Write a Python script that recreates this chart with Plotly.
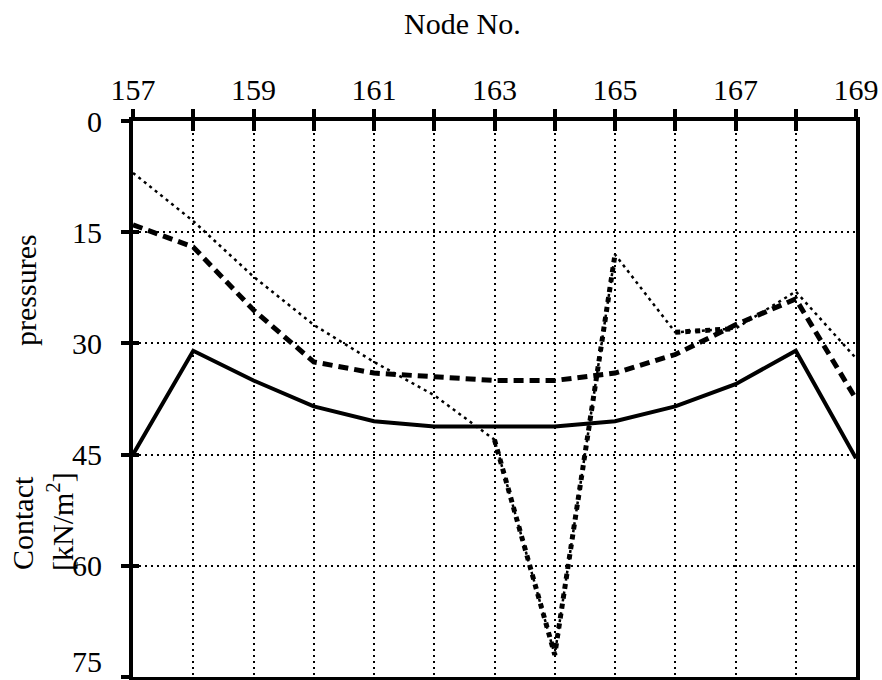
import plotly.graph_objects as go

nodes = [157, 158, 159, 160, 161, 162, 163, 164, 165, 166, 167, 168, 169]
label_nodes = [157, 159, 161, 163, 165, 167, 169]
label_texts = ["157", "159", "161", "163", "165", "167", "169"]
y_ticks = [0, 15, 30, 45, 60, 75]
y_label_vals = [0, 15, 30, 45, 60]
y_label_texts = ["0", "15", "30", "45", "60"]
y_last_tick = [75]
y_last_label = ["75"]

solid_vals = [45, 31, 35, 38.5, 40.5, 41.2, 41.2, 41.2, 40.5, 38.5, 35.5, 31, 45.5]
dashed_vals = [14, 17, 25.5, 32.5, 34, 34.5, 35, 35, 34, 31.5, 27.5, 24, 37.5]
dotted_vals = [7, 13.5, 21, 27.5, 32.5, 37, 43, 72, 18, 28.5, 28, 23, 32]
# parts of the dotted series drawn with heavy square dots
heavy_nodes_a = [163, 164, 165]
heavy_vals_a = [43, 72, 18]
heavy_nodes_b = [166, 167]
heavy_vals_b = [28.5, 28]

FONT = "Liberation Serif, Times New Roman, serif"
W, H = 882, 680
L, R, T, B = 133, 26, 121, 3
PW, PH = W - L - R, H - T - B
XR = [157, 169]
YR = [75, 0]


def px(x):
    return (x - L) / PW


def py(y):
    return 1 - (y - T) / PH


fig = go.Figure()
fig.add_trace(go.Scatter(x=nodes, y=dotted_vals, mode="lines",
                         line=dict(color="black", width=2.5, dash="3px,4px"), showlegend=False))
fig.add_trace(go.Scatter(x=heavy_nodes_a, y=heavy_vals_a, mode="lines",
                         line=dict(color="black", width=5, dash="5px,5px"), showlegend=False))
fig.add_trace(go.Scatter(x=heavy_nodes_b, y=heavy_vals_b, mode="lines",
                         line=dict(color="black", width=5, dash="5px,5px"), showlegend=False))
fig.add_trace(go.Scatter(x=nodes, y=dashed_vals, mode="lines",
                         line=dict(color="black", width=5, dash="10px,6px"), showlegend=False))
fig.add_trace(go.Scatter(x=nodes, y=solid_vals, mode="lines",
                         line=dict(color="black", width=4), showlegend=False))
# empty helper traces so the overlay axes (inner ticks, labels) are drawn
for xa, ya in [("x2", "y2"), ("x3", "y3"), ("x", "y4")]:
    fig.add_trace(go.Scatter(x=[], y=[], xaxis=xa, yaxis=ya, showlegend=False, hoverinfo="skip"))

common = dict(showgrid=False, zeroline=False, showline=False, automargin=False,
              tickcolor="black", tickwidth=4, tickfont=dict(size=30, family=FONT))

fig.update_layout(
    width=W, height=H,
    margin=dict(l=L, r=R, t=T, b=B, autoexpand=False),
    paper_bgcolor="white", plot_bgcolor="white",
    font=dict(family=FONT, color="black", size=30),
    xaxis=dict(side="top", range=XR, tickvals=nodes, showticklabels=False,
               showgrid=True, gridcolor="black", griddash="2px,4px", gridwidth=2,
               showline=True, linecolor="black", linewidth=4, mirror=True,
               ticks="outside", ticklen=8, tickwidth=4, tickcolor="black",
               zeroline=False, automargin=False),
    yaxis=dict(range=YR, tickvals=y_ticks, showticklabels=False,
               showgrid=True, gridcolor="black", griddash="2px,4px", gridwidth=2,
               showline=True, linecolor="black", linewidth=4, mirror=True,
               ticks="outside", ticklen=8, tickwidth=4, tickcolor="black",
               zeroline=False, automargin=False),
    xaxis2=dict(overlaying="x", side="top", anchor="y2", range=XR, tickvals=nodes,
                showticklabels=False, ticks="inside", ticklen=10, **common),
    yaxis2=dict(overlaying="y", side="left", anchor="x2", range=YR, tickvals=y_ticks,
                showticklabels=False, ticks="inside", ticklen=6, **common),
    xaxis3=dict(overlaying="x", side="top", anchor="y3", range=XR, tickvals=label_nodes,
                ticktext=label_texts, ticks="", ticklabelstandoff=14, **common),
    yaxis3=dict(overlaying="y", side="left", anchor="x3", range=YR, tickvals=y_label_vals,
                ticktext=y_label_texts, ticks="", ticklabelstandoff=30, **common),
    yaxis4=dict(overlaying="y", side="left", anchor="x", range=YR, tickvals=y_last_tick,
                ticktext=y_last_label, ticks="", ticklabelstandoff=30, ticklabelshift=16,
                ticklabeloverflow="allow", **common),
    annotations=[
        dict(text="Node No.", xref="paper", yref="paper", x=px(462), y=py(24),
             showarrow=False, font=dict(size=30, family=FONT), xanchor="center", yanchor="middle"),
        dict(text="pressures", xref="paper", yref="paper", x=px(25), y=py(290),
             showarrow=False, textangle=-90, font=dict(size=30, family=FONT), xanchor="center", yanchor="middle"),
        dict(text="Contact", xref="paper", yref="paper", x=px(22), y=py(523),
             showarrow=False, textangle=-90, font=dict(size=30, family=FONT), xanchor="center", yanchor="middle"),
        dict(text="[kN/m<sup>2</sup>]", xref="paper", yref="paper", x=px(60), y=py(522),
             showarrow=False, textangle=-90, font=dict(size=30, family=FONT), xanchor="center", yanchor="middle"),
    ],
)

fig.write_html("out.html", config={"displayModeBar": False},
               post_script="document.body.style.margin='0';")
